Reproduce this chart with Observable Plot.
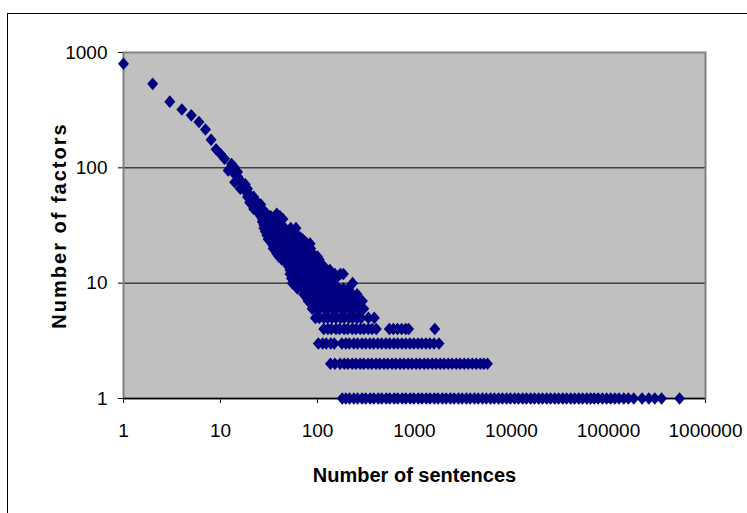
<!DOCTYPE html>
<html>
<head>
<meta charset="utf-8">
<script src="https://cdn.jsdelivr.net/npm/d3@7"></script>
<script src="https://cdn.jsdelivr.net/npm/@observablehq/plot@0.6"></script>
<style>
  html, body { margin: 0; padding: 0; background: #ffffff; }
  #wrap { position: relative; width: 747px; height: 513px; overflow: hidden; background: #ffffff; }
  #border { position: absolute; left: 7px; top: 13px; width: 900px; height: 700px; border: 1px solid #000; box-sizing: border-box; }
  #chart { position: absolute; left: 0; top: 0; }
</style>
</head>
<body>
<div id="wrap"><div id="border"></div><div id="chart"></div></div>
<script>
// Tick values
const xTicks = [1, 10, 100, 1000, 10000, 100000, 1000000];
const yTicks = [1, 10, 100, 1000];

// Head of the distribution: one point per sentence count
const headSentences = [1, 2, 3, 4, 5, 6, 7, 8, 9, 10, 11, 12, 13, 14, 15, 16, 17, 18, 19, 20, 21, 22, 23, 24, 25];
const headFactors   = [800, 535, 375, 320, 285, 250, 215, 175, 145, 132, 120, 95, 108, 88, 92, 78, 68, 72, 61, 58, 54, 50, 52, 46, 45];

// Band: [number of factors, [numbers of sentences]]
const bandRows = [
  [100, [14]],
  [84, [15]],
  [75, [14, 16]],
  [66, [16, 19]],
  [63, [18]],
  [56, [19, 22]],
  [50, [20, 24]],
  [48, [21, 26]],
  [44, [22, 27]],
  [42, [24, 28]],
  [40, [25, 30, 38]],
  [38, [26, 29, 33, 41]],
  [36, [27, 31, 35, 44]],
  [34, [27, 30, 34, 39]],
  [32, [28, 32, 36, 42]],
  [30, [28, 31, 35, 40, 46, 53, 60]],
  [29, [30, 33, 38, 44]],
  [28, [29, 34, 39, 50, 57]],
  [27, [31, 36, 42, 48]],
  [26, [30, 34, 37, 43, 52, 60]],
  [25, [32, 39, 44, 55, 66]],
  [24, [31, 36, 41, 48, 58, 70]],
  [23, [33, 38, 45, 51, 63, 74]],
  [22, [34, 37, 44, 49, 57, 67, 78, 84]],
  [21, [35, 41, 46, 54, 61, 72]],
  [20, [35, 39, 46, 50, 58, 65, 76, 85]],
  [19, [37, 43, 48, 56, 64, 73, 81]],
  [18, [38, 45, 50, 59, 67, 80, 90]],
  [17, [40, 46, 52, 61, 68, 81, 92, 100]],
  [16, [43, 49, 55, 64, 71, 84, 94, 104]],
  [15, [48, 54, 60, 69, 76, 89, 99, 107]],
  [14, [50, 57, 61, 71, 78, 91, 101, 116]],
  [13, [52, 59, 64, 74, 81, 94, 105, 121, 134]],
  [12, [52, 60, 65, 75, 82, 95, 104, 119, 131, 151, 172, 185]],
  [11, [54, 61, 66, 77, 84, 97, 107, 122, 136, 155]],
  [10, [55, 62, 67, 77, 84, 96, 106, 121, 132, 146, 230]],
  [9,  [62, 70, 76, 87, 95, 108, 118, 134, 147, 166, 185, 208]],
  [8,  [72, 80, 87, 98, 107, 121, 132, 149, 163, 183, 202, 229, 256]],
  [7,  [80, 89, 96, 109, 118, 133, 145, 163, 179, 200, 220, 247, 270, 290]],
  [6,  [88, 98, 106, 119, 130, 146, 159, 178, 195, 218, 239, 267, 300]],
  [5,  [95, 104, 116, 127, 141, 155, 173, 189, 211, 231, 257, 282, 335, 385]],
  [4,  [116, 128, 139, 155, 169, 188, 205, 228, 249, 276, 301, 334, 365, 404, 550, 605, 668, 737, 812, 870, 1620]],
  [3,  [102, 113, 123, 137, 149, 178, 196, 213, 237, 259, 287, 314, 347, 379, 419, 459, 507, 555, 613, 672, 741, 813, 896, 984, 1086, 1189, 1311, 1439, 1590, 1790]],
  [2,  [136, 151, 171, 189, 206, 228, 249, 275, 300, 332, 363, 401, 439, 485, 531, 587, 643, 710, 778, 859, 941, 1039, 1139, 1258, 1378, 1521, 1668, 1840, 2018, 2226, 2442, 2693, 2954, 3259, 3575, 3944, 4327, 4770, 5190, 5650]],
  [1,  [180, 196, 214, 237, 259, 288, 314, 349, 381, 423, 460, 511, 556, 618, 673, 747, 815, 903, 986, 1094, 1195, 1322, 1446, 1601, 1749, 1938, 2117, 2343, 2561, 2837, 3099, 3431, 3752, 4150, 4540, 5021, 5494, 6075, 6648, 7352, 8044, 8893, 9733, 10760, 11780, 13020, 14250, 15750, 17240, 19050, 20870, 23060, 25250, 27900, 30560, 33760, 36980, 40850, 44740, 49420, 54130, 59800, 65510, 71200, 78300, 86500, 95400, 105300, 116200, 128400, 143800, 160100, 182000, 222000, 260000, 300000, 352000, 540000]]
];

const points = headSentences.map((s, i) => ({sentences: s, factors: headFactors[i]}))
  .concat(bandRows.flatMap(([f, xs]) => xs.map(s => ({sentences: s, factors: f}))));

// Excel-like diamond marker
const diamond = {
  draw(context) {
    context.moveTo(0, -6.3);
    context.lineTo(5.5, 0);
    context.lineTo(0, 6.3);
    context.lineTo(-5.5, 0);
    context.closePath();
  }
};

const chart = Plot.plot({
  width: 747,
  height: 513,
  marginLeft: 123,
  marginRight: 42,
  marginTop: 52,
  marginBottom: 115,
  style: {fontFamily: "'Liberation Sans', Arial, sans-serif", fontSize: "19px", background: "transparent", color: "#000"},
  x: {type: "log", domain: [1, 1000000], ticks: xTicks, tickFormat: d => String(d), tickSize: 5, tickPadding: 20, label: null},
  y: {type: "log", domain: [1, 1000], ticks: yTicks, tickFormat: d => String(d), tickSize: 5, tickPadding: 11, label: null},
  marks: [
    Plot.frame({fill: "#C0C0C0"}),
    Plot.ruleY([10, 100], {stroke: "#000", strokeWidth: 1}),
    Plot.frame({stroke: "#808080", strokeWidth: 2}),
    Plot.ruleY([1], {stroke: "#000", strokeWidth: 1.5}),
    Plot.dot(points, {x: "sentences", y: "factors", symbol: diamond, fill: "#000080"}),
    Plot.text(["Number of sentences"], {text: d => d, frameAnchor: "bottom", lineAnchor: "middle", textAnchor: "middle", dy: 77.5, fontWeight: "bold", fontSize: 20}),
    Plot.text(["Number of factors"], {text: d => d, frameAnchor: "left", lineAnchor: "middle", textAnchor: "middle", rotate: -90, dx: -63.5, fontWeight: "bold", fontSize: 20})
  ]
});

d3.select(chart).selectAll("text")
  .filter(function() { return this.textContent === "Number of factors"; })
  .style("letter-spacing", "2px");

document.getElementById("chart").appendChild(chart);
</script>
</body>
</html>
